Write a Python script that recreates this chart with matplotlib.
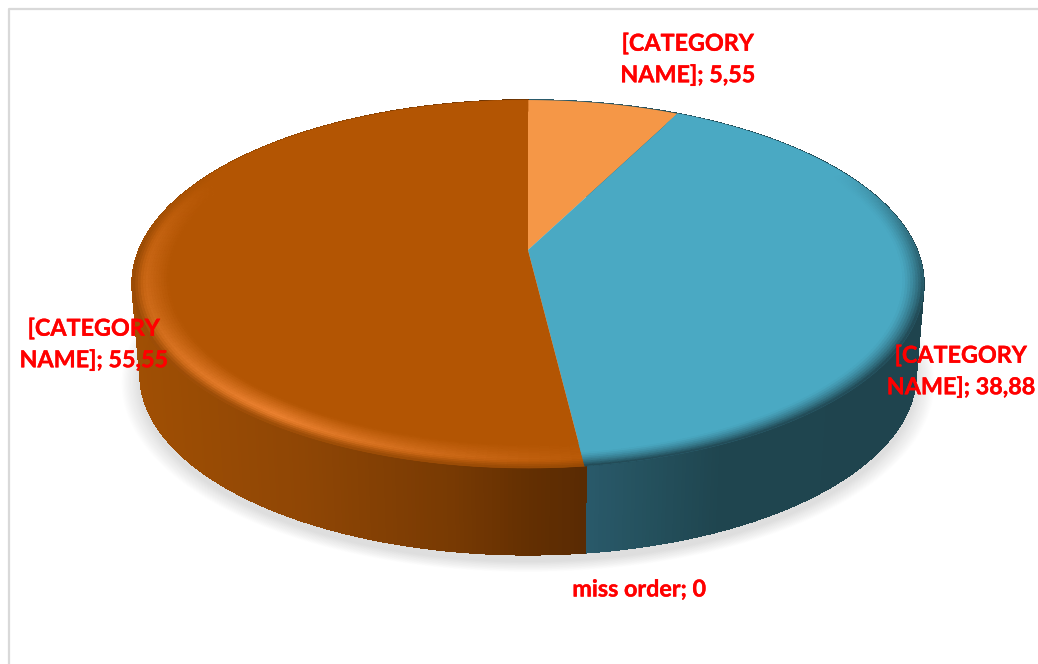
import numpy as np
import matplotlib
matplotlib.use("Agg")
import matplotlib.pyplot as plt
import matplotlib.patheffects as pe
from matplotlib.collections import PolyCollection
from matplotlib.colors import to_rgb

categories = ["[CATEGORY NAME]", "[CATEGORY NAME]", "miss order", "[CATEGORY NAME]"]
values = [5.55, 38.88, 0, 55.55]
# share of the turn each slice takes on screen (the 3D view in the source skews them)
drawn_share = [7.4, 40.7, 0, 51.9]
label_text = ["[CATEGORY\nNAME]; 5,55", "[CATEGORY\nNAME]; 38,88", "miss order; 0", "[CATEGORY\nNAME]; 55,55"]
label_pos = [(688, 60), (961, 372), (639, 590), (94, 345)]

top_colors = ["#F59747", "#4AA9C3", "#4AA9C3", "#B35503"]

W, H = 1038, 664
CX, APEX_Y = 528, 250
K = 0.185
A, B = 389.0, 177.7
WALL_SCALE, WALL_Y = 0.98, 341


def project(theta, r=1.0, scale=1.0, y0=APEX_Y):
    s, c = r * np.sin(theta), r * np.cos(theta)
    w = 1 + K * c
    return CX + scale * A * s / w, y0 - scale * B * c / w


def mix(a, b, t):
    a, b = np.array(to_rgb(a)), np.array(to_rgb(b))
    return tuple(a + (b - a) * float(np.clip(t, 0, 1)))


def wall_color(x, brown):
    if brown:
        xs = [132, 300, 450, 530, 582]
        cs = ["#A04F04", "#8F4605", "#783A03", "#632F02", "#5A2B03"]
    else:
        xs = [582, 640, 720, 930]
        cs = ["#2A5A6B", "#25525F", "#1F454F", "#1F444E"]
    i = int(np.clip(np.searchsorted(xs, x) - 1, 0, len(xs) - 2))
    return mix(cs[i], cs[i + 1], (x - xs[i]) / (xs[i + 1] - xs[i]))


fig = plt.figure(figsize=(W / 100, H / 100), dpi=100)
ax = fig.add_axes([0, 0, 1, 1])
ax.set_xlim(0, W)
ax.set_ylim(H, 0)
ax.axis("off")

# chart frame
ax.plot([9, 9, W], [H, 9, 9], color="#D9D9D9", lw=1.6, zorder=1)

bounds = np.deg2rad(np.cumsum([0] + drawn_share) * 3.6)
t_all = np.linspace(0, 2 * np.pi, 721)

# soft shadow under the pie
for j, g in enumerate(np.linspace(0, 1, 18)):
    scale = WALL_SCALE * (1.05 - 0.05 * g)
    x, y = project(t_all, scale=scale, y0=WALL_Y + 7)
    ax.fill(x, y, color=mix("#FFFFFF", "#DEDEDE", g), lw=0, zorder=2)

# side wall
polys, cols = [], []
for t0, t1 in zip(t_all[:-1], t_all[1:]):
    x0, y0 = project(np.array([t0, t1]))
    x1, y1 = project(np.array([t1, t0]), scale=WALL_SCALE, y0=WALL_Y)
    polys.append(list(zip(np.r_[x0, x1], np.r_[y0, y1])))
    brown = (t0 + t1) / 2 > bounds[3]
    cols.append(wall_color(x0.mean(), brown))
ax.add_collection(PolyCollection(polys, facecolors=cols, edgecolors=cols, lw=0.6,
                                 antialiaseds=False, zorder=3))

# top face
for i in range(len(drawn_share)):
    if drawn_share[i] == 0:
        continue
    t = np.linspace(bounds[i], bounds[i + 1], 200)
    x, y = project(t)
    ax.fill(np.r_[CX, x], np.r_[APEX_Y, y], color=top_colors[i], lw=0, zorder=4)


def brown_rim(th, t):
    deg = np.rad2deg(th)
    # strongest lit part of the bevel sits front left
    g = np.interp(deg, [173, 190, 215, 250, 275, 295, 360], [0.1, 0.45, 1.0, 0.5, 0.3, 0.0, 0.0])
    dark = np.interp(deg, [173, 270, 285, 300], [1.0, 1.0, 0.5, 0.0])
    up = mix("#B35503", "#EC8231", g * np.interp(t, [0, 0.6, 1], [0, 1, 0.35]))
    return mix(up, "#8F4605", dark * np.interp(t, [0.72, 1], [0, 0.85]))


def blue_rim(th, t):
    deg = np.rad2deg(th)
    g = np.interp(deg, [27, 62, 85, 110, 173], [0.0, 0.0, 0.6, 1.0, 1.0])
    return mix("#4AA9C3", "#1F444E", g * np.interp(t, [0.4, 1], [0, 1]) ** 1.4)


# bevel rings around the rim
rings = np.linspace(0.91, 1.0, 15)
polys, cols = [], []
for i, rim in ((3, brown_rim), (1, blue_rim)):
    th = np.linspace(bounds[i], bounds[i + 1], 140)
    for r0, r1 in zip(rings[:-1], rings[1:]):
        for t0, t1 in zip(th[:-1], th[1:]):
            x0, y0 = project(np.array([t0, t1]), r=r0)
            x1, y1 = project(np.array([t1, t0]), r=r1)
            polys.append(list(zip(np.r_[x0, x1], np.r_[y0, y1])))
            cols.append(rim((t0 + t1) / 2, ((r0 + r1) / 2 - 0.91) / 0.09))
ax.add_collection(PolyCollection(polys, facecolors=cols, edgecolors=cols, lw=0.4, zorder=5))

for txt, (lx, ly) in zip(label_text, label_pos):
    ax.text(lx, ly, txt, color="#FF0000", fontsize=16.8, fontweight="bold", family="Lato",
            ha="center", va="center", linespacing=1.62, zorder=10,
            path_effects=[pe.withStroke(linewidth=0.25, foreground="#FF0000")])

fig.savefig("out.png", dpi=100)
